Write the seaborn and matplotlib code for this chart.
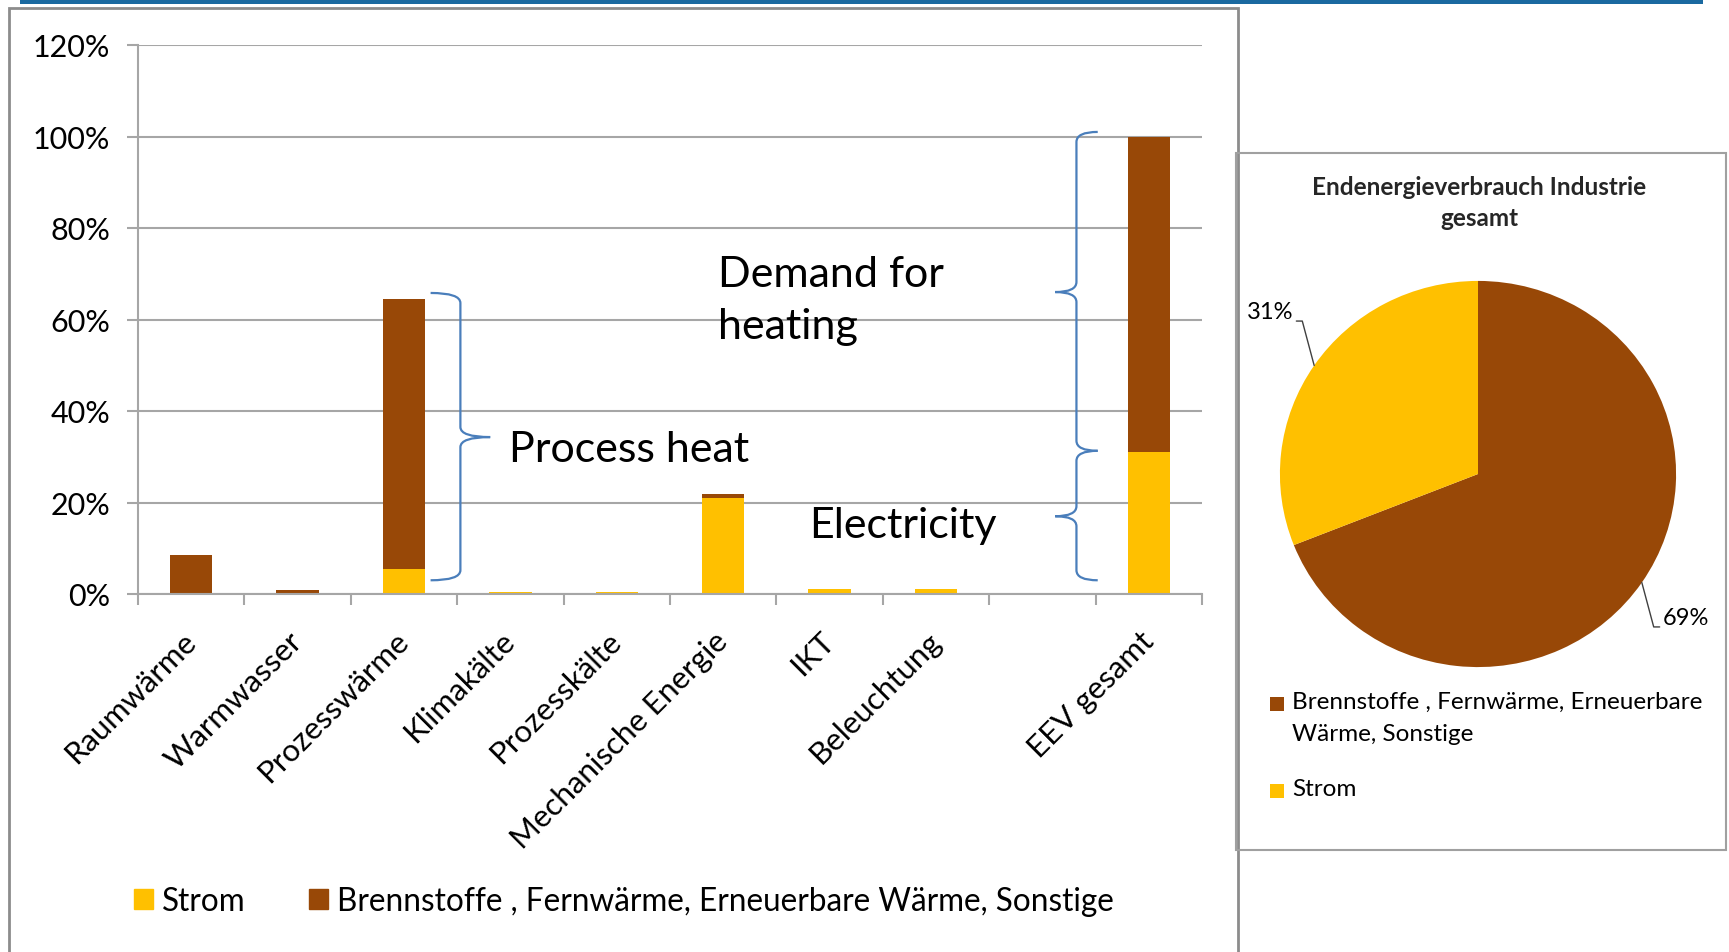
import numpy as np
import pandas as pd
import seaborn as sns
import matplotlib.pyplot as plt
from matplotlib.path import Path
from matplotlib.patches import PathPatch, Rectangle, Patch

# data
categories = ['Raumwärme', 'Warmwasser', 'Prozesswärme', 'Klimakälte', 'Prozesskälte',
              'Mechanische Energie', 'IKT', 'Beleuchtung', '', 'EEV gesamt']
strom = [0, 0, 5.5, 0.5, 0.5, 21.0, 1.2, 1.2, 0, 31.0]
brennstoffe = [8.5, 0.9, 59.0, 0, 0, 0.8, 0, 0, 0, 69.0]
y_ticks = [0, 20, 40, 60, 80, 100, 120]
y_tick_labels = ['0%', '20%', '40%', '60%', '80%', '100%', '120%']
bar_legend = ['Strom', 'Brennstoffe , Fernwärme, Erneuerbare Wärme, Sonstige']
pie_labels = ['Brennstoffe , Fernwärme, Erneuerbare\nWärme, Sonstige', 'Strom']
pie_values = [69, 31]
pie_title = 'Endenergieverbrauch Industrie\ngesamt'

YELLOW = '#ffc000'
BROWN = '#984807'
BLUE = '#4a7ebb'
GRID = '#a6a6a6'

sns.set_theme(style='white')
plt.rcParams['font.family'] = ['Lato', 'DejaVu Sans']
plt.rcParams['text.color'] = '#000000'
plt.rcParams['xtick.color'] = '#000000'
plt.rcParams['ytick.color'] = '#000000'

df = pd.DataFrame({'cat': categories, 'strom': strom, 'brenn': brennstoffe})
df['total'] = df['strom'] + df['brenn']

W, H = 1729, 953
fig = plt.figure(figsize=(W / 100, H / 100), dpi=100)

# frames and top blue rule
fig.patches.append(Rectangle((20 / W, 948 / H), 1683 / W, 6 / H, transform=fig.transFigure,
                             facecolor='#1a69a0', edgecolor='none'))
fig.patches.append(Rectangle((9 / W, -0.02), 1229 / W, 944 / H + 0.02, transform=fig.transFigure,
                             fill=False, edgecolor='#8c8c8c', lw=2))
fig.patches.append(Rectangle((1236 / W, 102 / H), 490 / W, 697 / H, transform=fig.transFigure,
                             fill=False, edgecolor='#a0a0a0', lw=1.5))

# stacked bars
ax = fig.add_axes([138 / W, 358 / H, 1064 / W, 549 / H])
sns.barplot(data=df, x='cat', y='total', order=categories, color=BROWN, width=0.4,
            saturation=1, linewidth=0, errorbar=None, ax=ax)
sns.barplot(data=df, x='cat', y='strom', order=categories, color=YELLOW, width=0.4,
            saturation=1, linewidth=0, errorbar=None, ax=ax)

ax.set_xlim(-0.5, len(categories) - 0.5)
ax.set_ylim(0, 120)
ax.set_yticks(y_ticks, y_tick_labels)
ax.set_xlabel('')
ax.set_ylabel('')
ax.grid(axis='y', color=GRID, lw=1.5)
ax.set_axisbelow(True)
for s in ['top', 'right']:
    ax.spines[s].set_visible(False)
for s in ['left', 'bottom']:
    ax.spines[s].set_color(GRID)
    ax.spines[s].set_linewidth(1.5)
ax.tick_params(axis='y', length=8, color=GRID, width=1.5, labelsize=22, pad=12, left=True)
ax.set_xticks(np.arange(-0.5, len(categories), 1), minor=True)
ax.tick_params(axis='x', which='minor', length=8, color=GRID, width=1.5, bottom=True)
ax.tick_params(axis='x', which='major', length=0, labelsize=22.5, pad=30)
for lbl in ax.get_xticklabels():
    lbl.set_rotation(45)
    lbl.set_ha('right')
    lbl.set_va('center')
    lbl.set_rotation_mode('anchor')


def brace(ax, xs, y0, y1, ym, end_dx, tip_dx, r):
    verts = [(xs + end_dx, y0), (xs, y0), (xs, y0 + r),
             (xs, ym - r), (xs, ym), (xs + tip_dx, ym),
             (xs, ym), (xs, ym + r),
             (xs, y1 - r), (xs, y1), (xs + end_dx, y1)]
    codes = [Path.MOVETO, Path.CURVE3, Path.CURVE3,
             Path.LINETO, Path.CURVE3, Path.CURVE3,
             Path.CURVE3, Path.CURVE3,
             Path.LINETO, Path.CURVE3, Path.CURVE3]
    ax.add_patch(PathPatch(Path(verts, codes), fill=False, edgecolor=BLUE, lw=1.6,
                           clip_on=False))


total = df['total'].tolist()
brace(ax, 2.53, 3, total[2] + 1.3, 34.3, -0.28, 0.28, 2.2)
brace(ax, 8.32, strom[9] + 0.3, total[9] + 1, 66, 0.2, -0.2, 2.2)
brace(ax, 8.32, 3, strom[9] + 0.3, 17, 0.2, -0.2, 2.2)

ax.text(2.99, 31.8, 'Process heat', fontsize=31, va='center')
ax.text(4.95, 64.2, 'Demand for\nheating', fontsize=31, va='center', linespacing=1.45)
ax.text(5.81, 15, 'Electricity', fontsize=31, va='center')

fig.legend(handles=[Patch(color=YELLOW), Patch(color=BROWN)], labels=bar_legend, ncol=2,
           loc='center left', bbox_to_anchor=(134 / W, 51 / H), frameon=False,
           fontsize=22.7, handlelength=0.6, handleheight=0.6, handletextpad=0.3,
           columnspacing=2.0, borderpad=0, borderaxespad=0)

# pie
pax = fig.add_axes([(1478 - 257.5) / W, (478 - 251) / H, 515 / W, 502 / H])
wedges, _ = pax.pie(pie_values, colors=[BROWN, YELLOW], startangle=90, counterclock=False,
                    wedgeprops=dict(linewidth=0))
pax.set_aspect('auto')
pax.set_xlim(-1.3, 1.3)
pax.set_ylim(-1.3, 1.3)
pax.axis('off')
for w, v in zip(wedges, pie_values):
    ang = np.deg2rad((w.theta1 + w.theta2) / 2)
    cx, cy = np.cos(ang), np.sin(ang)
    sx, sy = np.sign(cx), np.sign(cy)
    ex, ey = cx + 0.06 * sx, cy + 0.23 * sy
    pax.plot([cx, ex, ex + 0.03 * sx], [cy, ey, ey], color='#404040', lw=1, clip_on=False)
    pax.text(ex + 0.045 * sx, ey + 0.05, f'{v}%', fontsize=17, va='center',
             ha='left' if sx > 0 else 'right')

fig.text(1479 / W, 1 - 203 / H, pie_title, ha='center', va='center', fontsize=17.5,
         weight='bold', linespacing=1.45, color='#262626')

for lab, col, yy in zip(pie_labels, [BROWN, YELLOW], [705, 792]):
    fig.patches.append(Rectangle((1270 / W, 1 - (yy + 7) / H), 14 / W, 14 / H,
                                 transform=fig.transFigure, facecolor=col, edgecolor='none'))
    fig.text(1292 / W, 1 - (yy - 13) / H, lab, fontsize=17.5, va='top', linespacing=1.65)

fig.savefig('out.png', dpi=100)
